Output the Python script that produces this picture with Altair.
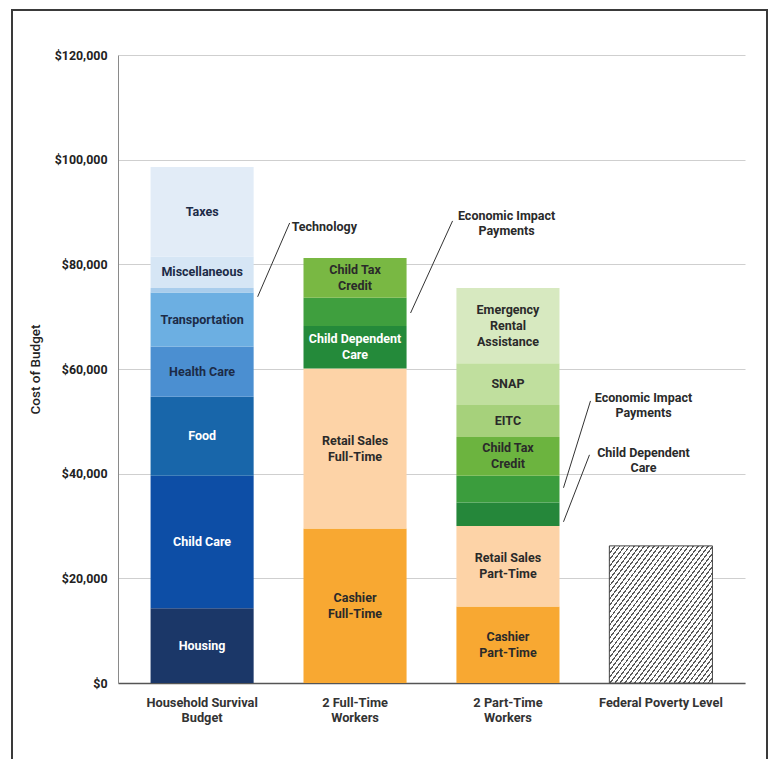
import altair as alt
import pandas as pd

# ---------------- data ----------------
categories = ["Household Survival Budget", "2 Full-Time Workers",
              "2 Part-Time Workers", "Federal Poverty Level"]

hsb_segments = ["Housing", "Child Care", "Food", "Health Care", "Transportation",
                "Technology", "Miscellaneous", "Taxes"]
hsb_values = [14300, 25300, 15100, 9600, 10300, 900, 6000, 17100]
hsb_labels = ["Housing", "Child Care", "Food", "Health Care", "Transportation",
              "", "Miscellaneous", "Taxes"]

ft_segments = ["Cashier Full-Time", "Retail Sales Full-Time", "Child Dependent Care",
               "Economic Impact Payments", "Child Tax Credit"]
ft_values = [29500, 30600, 8100, 5400, 7600]
ft_labels = ["Cashier\nFull-Time", "Retail Sales\nFull-Time", "Child Dependent\nCare",
             "", "Child Tax\nCredit"]

pt_segments = ["Cashier Part-Time", "Retail Sales Part-Time", "Child Dependent Care",
               "Economic Impact Payments", "Child Tax Credit", "EITC", "SNAP",
               "Emergency Rental Assistance"]
pt_values = [14600, 15400, 4500, 5100, 7400, 6100, 8000, 14400]
pt_labels = ["Cashier\nPart-Time", "Retail Sales\nPart-Time", "", "", "Child Tax\nCredit",
             "EITC", "SNAP", "Emergency\nRental\nAssistance"]

fpl_value = 26200

callout_category = ["Household Survival Budget", "2 Full-Time Workers",
                    "2 Part-Time Workers", "2 Part-Time Workers"]
callout_text = ["Technology", "Economic Impact\nPayments",
                "Economic Impact\nPayments", "Child Dependent\nCare"]
callout_from = [73800, 70700, 37300, 30800]
callout_to = [87900, 88300, 53900, 43600]
callout_text_y = [87100, 87800, 53000, 42500]

y_ticks = [0, 20000, 40000, 60000, 80000, 100000, 120000]

x_label_lines = {
    "Household Survival Budget": ["Household Survival", "Budget"],
    "2 Full-Time Workers": ["2 Full-Time", "Workers"],
    "2 Part-Time Workers": ["2 Part-Time", "Workers"],
    "Federal Poverty Level": ["Federal Poverty Level"],
}

# ---------------- styles ----------------
hsb_colors = ["#1b3768", "#0d4ea6", "#1866aa", "#4b8fd1", "#6cafe2",
              "#a9cdec", "#d6e6f5", "#e2ecf7"]
ft_colors = ["#f8a832", "#fdd3a7", "#248a3a", "#3f9f3e", "#79b843"]
pt_colors = ["#f8a832", "#fdd3a7", "#25873a", "#3b9d3d", "#6cb43f",
             "#a6d17b", "#c0df9e", "#d7e9c0"]
white_text = {("Household Survival Budget", "Housing"),
              ("Household Survival Budget", "Child Care"),
              ("Household Survival Budget", "Food"),
              ("2 Full-Time Workers", "Child Dependent Care")}
navy_text = {"Taxes", "Miscellaneous", "Transportation", "Health Care"}

# callout styling: leader-line end offset, text offset, text alignment
callout_line_end = [36, 46, 31, 30]
callout_text_dx = [38, 100, 84, 84]
callout_align = ["left", "center", "center", "center"]

FONT = "Roboto"
FS = 12.5
LH = 16

# ---------------- table ----------------
rows, keys, colors = [], [], []
for cat, segs, vals, labs, cols in [
    (categories[0], hsb_segments, hsb_values, hsb_labels, hsb_colors),
    (categories[1], ft_segments, ft_values, ft_labels, ft_colors),
    (categories[2], pt_segments, pt_values, pt_labels, pt_colors),
]:
    for i, (s, v, lab, c) in enumerate(zip(segs, vals, labs, cols)):
        key = cat + " | " + s
        if (cat, s) in white_text:
            tc = "#ffffff"
        elif s in navy_text and cat == categories[0]:
            tc = "#1c2b47"
        else:
            tc = "#2a2a2a"
        rows.append(dict(category=cat, segment=s, key=key, value=v, order=i,
                         label=lab, nlines=(lab.count("\n") + 1) if lab else 0,
                         tcolor=tc))
        keys.append(key)
        colors.append(c)
df = pd.DataFrame(rows)

df_fpl = pd.DataFrame({"category": [categories[3]], "value": [fpl_value]})
df_call = pd.DataFrame({"idx": list(range(len(callout_text))),
                        "category": callout_category, "text": callout_text,
                        "from": callout_from, "to": callout_to,
                        "ty": callout_text_y})

# ---------------- scales / axes ----------------
x_scale = alt.Scale(domain=categories, paddingInner=0.326, paddingOuter=0.213)
y_scale = alt.Scale(domain=[0, 120000], nice=False)

label_expr = ""
for k, lines in x_label_lines.items():
    arr = "[" + ",".join("'" + l + "'" for l in lines) + "]"
    label_expr += "datum.value == '" + k + "' ? " + arr + " : "
label_expr += "datum.value"

x_axis = alt.Axis(title=None, labelAngle=0, ticks=False, domainColor="#555555",
                  domainWidth=1.5, labelPadding=13, labelFont=FONT,
                  labelFontWeight="bold", labelFontSize=12.8, labelColor="#333333",
                  labelLineHeight=15, labelExpr=label_expr, labelBaseline="top")
y_axis = alt.Axis(values=y_ticks, format="$,.0f", grid=True, gridColor="#cfcfcf",
                  domain=True, domainColor="#8a8a8a", ticks=False, labelPadding=11,
                  labelFont=FONT, labelFontWeight="bold", labelFontSize=12.4,
                  labelColor="#222222", title="Cost of Budget", titleFont=FONT,
                  titleFontWeight=500, titleFontSize=13.5, titleColor="#222222",
                  titlePadding=12)


def X(**kw):
    return alt.X("category:N", scale=x_scale, sort=categories, axis=x_axis, **kw)


def Y(field):
    return alt.Y(field, scale=y_scale, axis=y_axis, title="Cost of Budget")


base = alt.Chart(df).transform_stack(
    stack="value", groupby=["category"],
    sort=[alt.SortField("order", "ascending")], as_=["y0", "y1"])

bars = base.mark_bar().encode(
    x=X(), y=Y("y0:Q"), y2="y1:Q",
    color=alt.Color("key:N", scale=alt.Scale(domain=keys, range=colors), legend=None),
)

label_layers = []
for n in (1, 2, 3):
    label_layers.append(
        base.transform_filter("datum.nlines == %d" % n).transform_calculate(
            mid="(datum.y0 + datum.y1) / 2"
        ).mark_text(font=FONT, fontWeight="bold", fontSize=FS, lineBreak="\n",
                    lineHeight=LH, baseline="middle", dy=-(n - 1) * LH / 2).encode(
            x=X(), y=Y("mid:Q"), text="label:N",
            color=alt.Color("tcolor:N", scale=None),
        )
    )

# hatched poverty level bar (stripes via a linear gradient)
N = 42
stops = []
for k in range(N):
    a = k / N
    b = (k + 0.3) / N
    c = (k + 1) / N
    stops += [alt.GradientStop(color="#5a5a5a", offset=a),
              alt.GradientStop(color="#5a5a5a", offset=b),
              alt.GradientStop(color="#ffffff", offset=b),
              alt.GradientStop(color="#ffffff", offset=c)]
hatch = alt.LinearGradient(gradient="linear", stops=stops, x1=0, y1=0, x2=1, y2=1)

fpl = alt.Chart(df_fpl).mark_bar(fill=hatch, stroke="#444444", strokeWidth=1).encode(
    x=X(), y=Y("value:Q"))

callout_layers = []
for i in range(len(callout_text)):
    sub = alt.Chart(df_call).transform_filter("datum.idx == %d" % i)
    callout_layers.append(
        sub.mark_rule(color="#333333", strokeWidth=1, xOffset=4,
                      x2Offset=callout_line_end[i]).encode(
            x=X(bandPosition=1), x2=alt.X2("category:N", bandPosition=1),
            y=Y("from:Q"), y2="to:Q"))
    nl = callout_text[i].count("\n") + 1
    callout_layers.append(
        sub.mark_text(font=FONT, fontWeight="bold", fontSize=FS,
                      align=callout_align[i], dx=callout_text_dx[i],
                      dy=-(nl - 1) * 15 / 2, baseline="middle", lineBreak="\n",
                      lineHeight=15, color="#2a2a2a").encode(
            x=X(bandPosition=1), y=Y("ty:Q"), text="text:N"))

frame = alt.Chart(pd.DataFrame({"f": [0]})).mark_rect(
    fillOpacity=0, stroke="#3a3a3a", strokeWidth=2).encode(
    x=alt.value(-106), x2=alt.value(649), y=alt.value(-45), y2=alt.value(730))

chart = alt.layer(bars, fpl, *label_layers, *callout_layers, frame).properties(
    width=627, height=628,
    padding={"left": 118, "top": 55, "right": 28, "bottom": 76},
    autosize=alt.AutoSizeParams(type="none"),
    background="#ffffff",
).configure_view(stroke=None)

chart.save("out.html", embed_options={"renderer": "svg", "actions": False})
